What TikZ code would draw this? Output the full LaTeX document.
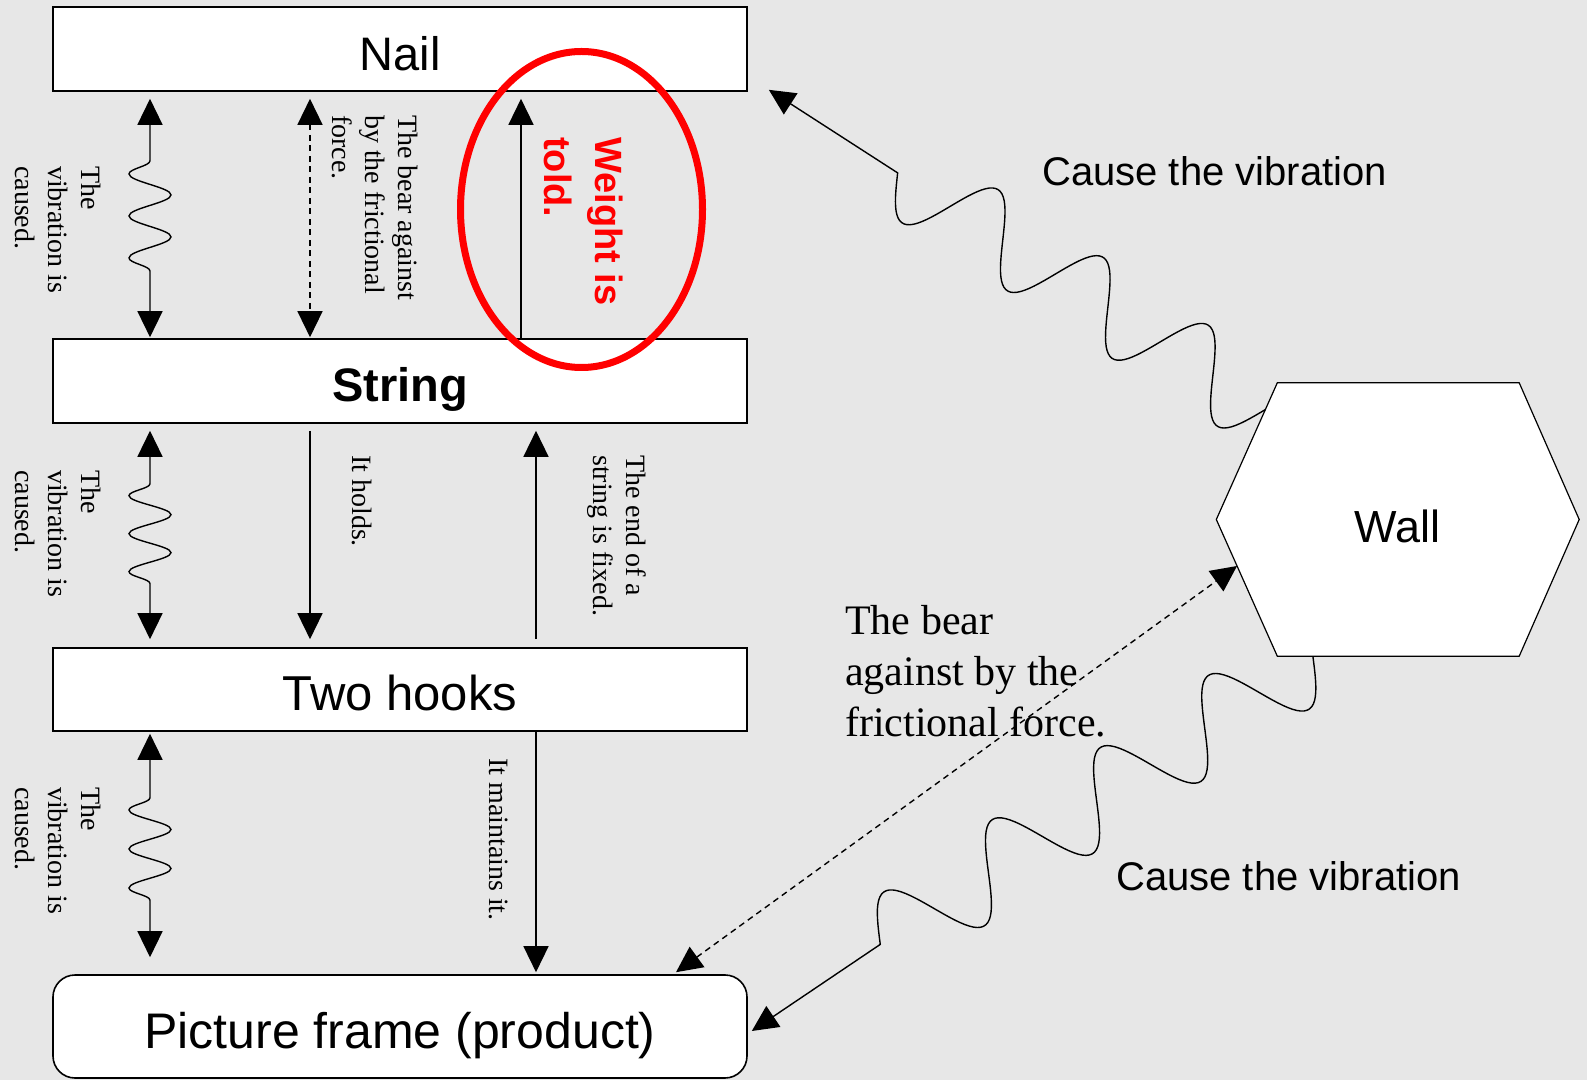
\documentclass[tikz,border=0pt]{standalone}
\usepackage{fontspec}
\setmainfont{Liberation Serif}
\newfontfamily\sansf{Liberation Sans}
\usetikzlibrary{arrows.meta,decorations.pathmorphing,calc}
\definecolor{bgcol}{RGB}{231,231,231}
\definecolor{ringred}{RGB}{255,0,0}
\begin{document}
\begin{tikzpicture}[x=1pt,y=1pt,
  box/.style={draw, fill=white, line width=1.6pt, minimum width=694pt, inner sep=0pt},
  arr/.style={line width=1.4pt, -{Triangle[length=26pt,width=25pt]}},
  darr/.style={line width=1.4pt, {Triangle[length=26pt,width=25pt]}-{Triangle[length=26pt,width=25pt]}},
  wavy/.style={darr, decorate, decoration={snake, amplitude=21pt, mirror}},
  dashline/.style={dash pattern=on 6pt off 4.5pt},
  vtext/.style={rotate=-90, anchor=north west, align=left, inner sep=0pt, font=\fontsize{28}{33}\selectfont},
  sidetext/.style={anchor=base west, inner sep=0pt, font=\sansf\fontsize{40}{48}\selectfont}
]
\fill[bgcol] (0,0) rectangle (1587,1080);
\useasboundingbox (0,0) rectangle (1587,1080);

% boxes
\node[box, text height=64pt, text depth=20pt, font=\sansf\fontsize{47}{56}\selectfont] (nail) at (400,1031) {Nail};
\node[box, text height=63pt, text depth=21pt, font=\sansf\bfseries\fontsize{47}{56}\selectfont] (string) at (400,699) {String};
\node[box, text height=62pt, text depth=21pt, font=\sansf\fontsize{49}{58}\selectfont] (hooks) at (400,390.5) {Two hooks};
\node[box, rounded corners=22pt, text height=73pt, text depth=30pt, font=\sansf\fontsize{50}{60}\selectfont] (frame) at (400,53.5) {Picture frame (product)};

% wall hexagon
\node[minimum width=362.5pt, minimum height=273pt, inner sep=0pt] (wall) at (1397.75,560.5) {};
\coordinate (wtl) at ([xshift=61pt]wall.north west);
\coordinate (wtr) at ([xshift=-60pt]wall.north east);
\coordinate (wbl) at ([xshift=61pt]wall.south west);
\coordinate (wbr) at ([xshift=-60pt]wall.south east);
\draw[fill=white, line width=1.2pt] (wall.west) -- (wtl) -- (wtr) -- (wall.east) -- (wbr) -- (wbl) -- cycle;
\node[anchor=base, inner sep=0pt, font=\sansf\fontsize{45}{54}\selectfont] (walllabel) at ([yshift=-23.5pt]wall.center) {Wall};

% helper coordinates
\coordinate (xA) at (150,0);
\coordinate (xB) at (310,0);
\coordinate (xC) at (521,0);
\coordinate (xD) at (536,0);
\coordinate (w1) at ($(wall.west)!0.804!(wtl)$);
\coordinate (wd) at ($(wall.west)!0.34!(wbl)$);
\coordinate (w2) at ($(wbl)!0.147!(wbr)$);
\coordinate (ntip) at ([shift={(21pt,2pt)}]nail.south east);
\coordinate (ftip) at ([shift={(4pt,-4.5pt)}]frame.east);
\coordinate (fdash) at ([shift={(276pt,2pt)}]frame.north);

% vertical connectors
\draw[wavy, shorten <=7pt, shorten >=1pt, decoration={segment length=42pt, pre length=69pt, post length=51pt}] (nail.south -| xA) -- (string.north -| xA);
\draw[wavy, shorten <=7pt, shorten >=8pt, decoration={segment length=38pt, pre length=60pt, post length=49pt}] (string.south -| xA) -- (hooks.north -| xA);
\draw[wavy, shorten <=2pt, shorten >=17pt, decoration={segment length=39pt, pre length=66pt, post length=59pt}] (hooks.south -| xA) -- (frame.north -| xA);
\draw[darr, dashline, shorten <=7pt, shorten >=1pt] (nail.south -| xB) -- (string.north -| xB);
\draw[arr, shorten >=7pt] (string.north -| xC) -- (nail.south -| xC);
\draw[arr, shorten <=7pt, shorten >=8pt] (string.south -| xB) -- (hooks.north -| xB);
\draw[arr, shorten <=8pt, shorten >=7pt] (hooks.north -| xD) -- (string.south -| xD);
\draw[arr, shorten >=2pt] (hooks.south -| xD) -- (frame.north -| xD);

% wall connectors
\begin{scope}[shift={(w1)}, rotate=147.18]
\draw[arr] plot[domain=0:3.5, samples=160] ({125*\x}, {40*sin(360*\x)}) -- (ntip);
\end{scope}
\begin{scope}[shift={(w2)}, rotate=213.71]
\draw[arr] plot[domain=0:4, samples=180] ({130*\x}, {42*sin(360*\x)}) -- (ftip);
\end{scope}
\draw[darr, dashline] (fdash) -- (wd);

% red ring
\draw[ringred, line width=7pt] (581.5,870.5) ellipse [x radius=121pt, y radius=158pt];

% rotated labels
\node[vtext] (vib1) at (101,914) {The\\vibration is\\caused.};
\node[vtext] (vib2) at (101,610) {The\\vibration is\\caused.};
\node[vtext] (vib3) at (101,293) {The\\vibration is\\caused.};
\node[vtext] (bear1) at (418,965) {The bear against\\by the frictional\\force.};
\node[vtext] (holds) at (372,625) {It holds.};
\node[vtext] (fixed) at (646,625) {The end of a\\string is fixed.};
\node[vtext] (maint) at (508,322) {It maintains it.};
\node[vtext, text=ringred, font=\sansf\bfseries\fontsize{38}{51}\selectfont] (weight) at (623,943) {Weight is\\told.};

% horizontal labels
\node[anchor=north west, align=left, inner sep=0pt, font=\fontsize{42}{51}\selectfont] (bear2) at (845,474.5) {The bear\\against by the\\frictional force.};
\node[sidetext] (cv1) at (1042,894) {Cause the vibration};
\node[sidetext] (cv2) at (1116,190) {Cause the vibration};
\end{tikzpicture}
\end{document}
